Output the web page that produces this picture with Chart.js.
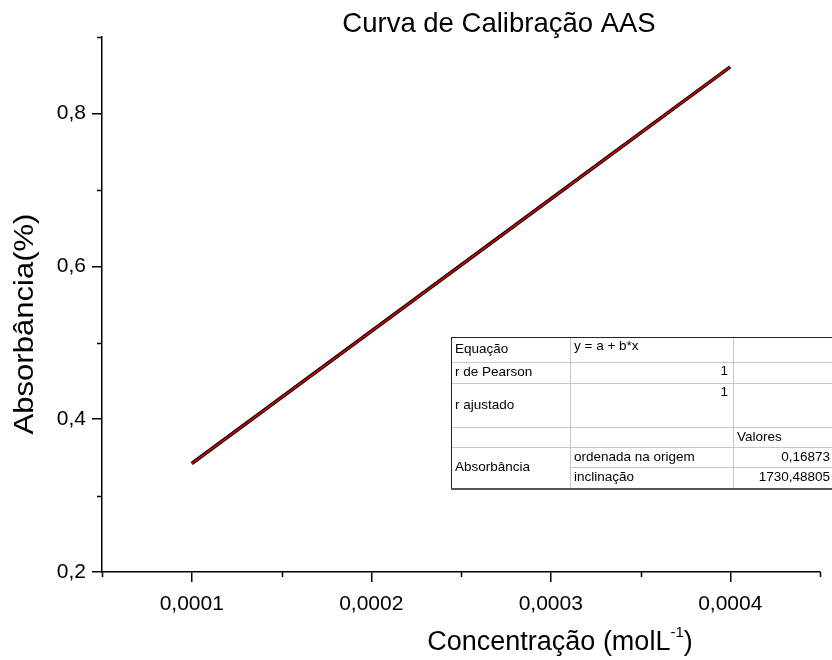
<!DOCTYPE html>
<html>
<head>
<meta charset="utf-8">
<title>Curva de Calibração AAS</title>
<script src="https://cdn.jsdelivr.net/npm/chart.js@4/dist/chart.umd.min.js"></script>
<style>
    body { margin: 0; background: #fff; }
    canvas { display: block; }
</style>
</head>
<body>
<canvas id="calibChart" width="832" height="660"></canvas>
<script>
// Padrões medidos
const concentracao = [0.0001, 0.0002, 0.0003, 0.0004];
const absorbancia = [0.342, 0.515, 0.688, 0.861];

// Parâmetros do ajuste linear y = a + b*x
const ordenadaOrigem = 0.16873;
const inclinacao = 1730.48805;
const rPearson = 1;
const rAjustado = 1;

// Ticks dos eixos
const xTicks = [0.0001, 0.0002, 0.0003, 0.0004];
const xMinorTicks = [0.00005, 0.00015, 0.00025, 0.00035, 0.00045];
const yTicks = [0.2, 0.4, 0.6, 0.8];
const yMinorTicks = [0.3, 0.5, 0.7, 0.9];

const FONT = 'Arial, "Liberation Sans", sans-serif';

const fmt = (v, d) => v.toFixed(d).replace('.', ',');

// Reta ajustada entre o primeiro e o último padrão
const xFit = [concentracao[0], concentracao[concentracao.length - 1]];
const fitPoints = xFit.map(x => ({ x: x, y: ordenadaOrigem + inclinacao * x }));

// Tabela com os resultados do ajuste
const tabelaLinhas = [337, 362, 383, 427, 447, 467, 488];
const tabelaColunas = [451, 570, 733, 880];

const overlayPlugin = {
    id: 'overlay',
    afterDraw(chart) {
        const ctx = chart.ctx;
        const xs = chart.scales.x;
        const ys = chart.scales.y;
        const area = chart.chartArea;

        ctx.save();

        // minor ticks
        ctx.strokeStyle = '#000';
        ctx.lineWidth = 1.5;
        ctx.beginPath();
        xMinorTicks.forEach(v => {
            const px = Math.round(xs.getPixelForValue(v)) + 0.5;
            ctx.moveTo(px, area.bottom);
            ctx.lineTo(px, area.bottom + 5);
        });
        yMinorTicks.forEach(v => {
            const py = Math.round(ys.getPixelForValue(v)) + 0.5;
            ctx.moveTo(area.left - 5, py);
            ctx.lineTo(area.left, py);
        });
        ctx.stroke();

        // title
        ctx.fillStyle = '#000';
        ctx.font = '27.5px ' + FONT;
        ctx.textAlign = 'center';
        ctx.textBaseline = 'alphabetic';
        ctx.fillText('Curva de Calibração AAS', 499, 32);

        // y axis title (stretched along the text direction)
        ctx.save();
        ctx.translate(26, 324);
        ctx.rotate(-Math.PI / 2);
        ctx.scale(1.15, 1);
        ctx.font = '27px ' + FONT;
        ctx.textBaseline = 'middle';
        ctx.fillText('Absorbância(%)', 0, 0);
        ctx.restore();

        // x axis title with superscript
        const main = 'Concentração (molL';
        const sup = '-1';
        ctx.font = '27px ' + FONT;
        const wMain = ctx.measureText(main).width;
        const wClose = ctx.measureText(')').width;
        ctx.font = '15px ' + FONT;
        const wSup = ctx.measureText(sup).width;
        let x = 560 - (wMain + wSup + wClose) / 2;
        ctx.textAlign = 'left';
        ctx.font = '27px ' + FONT;
        ctx.fillText(main, x, 650);
        x += wMain;
        ctx.font = '15px ' + FONT;
        ctx.fillText(sup, x, 637);
        x += wSup;
        ctx.font = '27px ' + FONT;
        ctx.fillText(')', x, 650);

        drawTable(ctx);
        ctx.restore();
    }
};

function drawTable(ctx) {
    const r = tabelaLinhas;
    const c = tabelaColunas;

    ctx.fillStyle = '#fff';
    ctx.fillRect(c[0], r[0], c[3] - c[0], r[6] - r[0]);

    // inner grid lines
    ctx.strokeStyle = '#c8c8c8';
    ctx.lineWidth = 1;
    ctx.beginPath();
    for (let i = 1; i < r.length - 1; i++) {
        // the "Absorbância" cell spans the last two rows
        const x0 = (i === 5) ? c[1] : c[0];
        ctx.moveTo(x0, r[i] + 0.5);
        ctx.lineTo(c[3], r[i] + 0.5);
    }
    ctx.moveTo(c[1] + 0.5, r[0]);
    ctx.lineTo(c[1] + 0.5, r[6]);
    ctx.moveTo(c[2] + 0.5, r[0]);
    ctx.lineTo(c[2] + 0.5, r[6]);
    ctx.stroke();

    // outer border
    ctx.strokeStyle = '#222';
    ctx.lineWidth = 1;
    ctx.strokeRect(c[0] + 0.5, r[0] + 0.5, c[3] - c[0], r[6] - r[0]);
    ctx.strokeStyle = '#555';
    ctx.lineWidth = 2;
    ctx.beginPath();
    ctx.moveTo(c[0], r[6] + 1);
    ctx.lineTo(c[3], r[6] + 1);
    ctx.stroke();

    ctx.fillStyle = '#000';
    ctx.font = '13.5px ' + FONT;
    ctx.textBaseline = 'middle';
    const mid = i => (r[i] + r[i + 1]) / 2;

    ctx.textAlign = 'left';
    ctx.fillText('Equação', c[0] + 4, mid(0));
    ctx.fillText('y = a + b*x', c[1] + 4, r[0] + 9);
    ctx.fillText('r de Pearson', c[0] + 4, mid(1));
    ctx.fillText('r ajustado', c[0] + 4, mid(2));
    ctx.fillText('Valores', c[2] + 4, mid(3));
    ctx.fillText('Absorbância', c[0] + 4, (r[4] + r[6]) / 2);
    ctx.fillText('ordenada na origem', c[1] + 4, mid(4));
    ctx.fillText('inclinação', c[1] + 4, mid(5));

    ctx.textAlign = 'right';
    ctx.fillText(String(rPearson), c[2] - 5, r[1] + 9);
    ctx.fillText(String(rAjustado), c[2] - 5, r[2] + 9);
    ctx.fillText(fmt(ordenadaOrigem, 5), 830, mid(4));
    ctx.fillText(fmt(inclinacao, 5), 830, mid(5));
}

new Chart(document.getElementById('calibChart'), {
    type: 'scatter',
    data: {
        datasets: [{
            label: 'Ajuste linear',
            data: fitPoints,
            showLine: true,
            borderColor: '#e00000',
            borderWidth: 1.5,
            pointRadius: 0,
            order: 0
        }, {
            label: 'Absorbância',
            data: concentracao.map((x, i) => ({ x: x, y: absorbancia[i] })),
            showLine: true,
            borderColor: '#000',
            borderWidth: 3.5,
            pointRadius: 0,
            order: 1
        }]
    },
    options: {
        responsive: false,
        animation: false,
        layout: { padding: { top: 37, right: 12, left: 0, bottom: 0 } },
        plugins: {
            legend: { display: false },
            title: { display: false },
            tooltip: { enabled: false }
        },
        scales: {
            x: {
                type: 'linear',
                min: 0.00005,
                max: 0.00045,
                afterBuildTicks: scale => { scale.ticks = xTicks.map(v => ({ value: v })); },
                afterFit: scale => { scale.height = 88; },
                grid: { drawOnChartArea: false, tickLength: 10, color: '#000', lineWidth: 1.5 },
                border: { display: true, color: '#000', width: 1.5 },
                ticks: {
                    color: '#000',
                    font: { family: FONT, size: 21 },
                    padding: 10,
                    maxRotation: 0,
                    callback: v => fmt(v, 4)
                }
            },
            y: {
                type: 'linear',
                min: 0.2,
                max: 0.9,
                afterBuildTicks: scale => { scale.ticks = yTicks.map(v => ({ value: v })); },
                afterFit: scale => { scale.width = 102; },
                grid: { drawOnChartArea: false, tickLength: 10, color: '#000', lineWidth: 1.5 },
                border: { display: true, color: '#000', width: 1.5 },
                ticks: {
                    color: '#000',
                    font: { family: FONT, size: 21 },
                    padding: 6,
                    callback: v => fmt(v, 1)
                }
            }
        }
    },
    plugins: [overlayPlugin]
});
</script>
</body>
</html>
